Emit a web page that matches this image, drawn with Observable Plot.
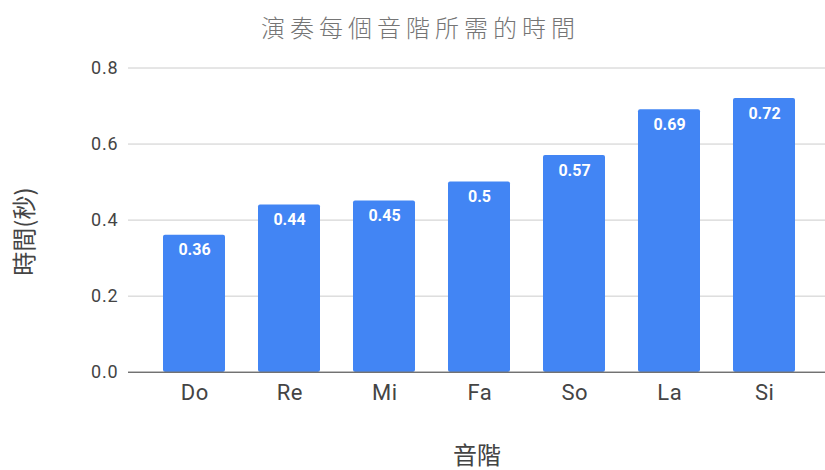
<!DOCTYPE html>
<html>
<head>
<meta charset="utf-8">
<script src="https://cdn.jsdelivr.net/npm/d3@7"></script>
<script src="https://cdn.jsdelivr.net/npm/@observablehq/plot@0.6"></script>
<style>
  html, body { margin: 0; padding: 0; background: #fff; }
  #title {
    width: 825px; height: 54px; line-height: 54px; text-align: center;
    font-family: "Noto Sans CJK TC", sans-serif; font-size: 24px; font-weight: 300;
    letter-spacing: 5px; color: #757575; text-indent: 16px; box-sizing: border-box;
  }
</style>
</head>
<body>
<div id="title">演奏每個音階所需的時間</div>
<div id="chart"></div>
<script>
const notes = ["Do", "Re", "Mi", "Fa", "So", "La", "Si"];
const times = [0.36, 0.44, 0.45, 0.5, 0.57, 0.69, 0.72];
const yTicks = [0, 0.2, 0.4, 0.6, 0.8];
const xTitle = "音階";
const yTitle = "時間(秒)";

const data = notes.map((n, i) => ({note: n, time: times[i]}));

const chart = Plot.plot({
  width: 825,
  height: 416,
  marginTop: 13.5,
  marginBottom: 98.3,
  marginLeft: 128,
  marginRight: 0,
  x: {domain: notes, range: [145.3, 812.7], paddingInner: 0.35, paddingOuter: 0.175, axis: null},
  y: {domain: [0, 0.8], axis: null},
  marks: [
    Plot.ruleY(yTicks.filter(d => d !== 0), {stroke: "#cccccc", strokeWidth: 1}),
    Plot.barY(data, {x: "note", y: "time", fill: "#4285F4", rx: 2}),
    Plot.ruleY([0], {stroke: "#333333", strokeWidth: 1}),
    Plot.axisY({ticks: yTicks, tickSize: 0, tickPadding: 10, tickFormat: d => d.toFixed(1),
      fontSize: 18, fill: "#444", label: null, fontFamily: "Roboto"}),
    Plot.axisX({tickSize: 0, tickPadding: 12, fontSize: 22, fill: "#444", label: null,
      fontFamily: "Roboto"}),
    Plot.text(data, {x: "note", y: "time", text: d => String(d.time), dy: 15, ariaLabel: "bar-labels",
      fill: "white", fontWeight: "bold", fontSize: 16, fontFamily: "Roboto"}),
    Plot.text([xTitle], {frameAnchor: "bottom", lineAnchor: "middle", dy: 84, fontSize: 24, fill: "#444",
      fontFamily: "Noto Sans CJK TC", ariaLabel: "x-title"}),
    Plot.text([yTitle], {frameAnchor: "left", textAnchor: "middle", rotate: -90, dx: -103, dy: 11.5, fontSize: 24, fill: "#444",
      fontFamily: "Noto Sans CJK TC", ariaLabel: "y-title"})
  ]
});
const svg = d3.select(chart);
svg.selectAll('g[aria-label="y-axis tick label"] text').style("font-size", "18px").style("letter-spacing", "0.8px");
svg.selectAll('g[aria-label="x-axis tick label"] text').style("font-size", "22px").style("letter-spacing", "0.5px").attr("dx", "0.25");
svg.selectAll('g[aria-label="bar-labels"] text').style("letter-spacing", "0.8px").attr("dx", "0.4");
svg.selectAll('g[aria-label="x-title"] text').style("letter-spacing", "3px");
svg.selectAll('g[aria-label="y-title"] text').style("letter-spacing", "2px");
document.getElementById("chart").appendChild(chart);
</script>
</body>
</html>
